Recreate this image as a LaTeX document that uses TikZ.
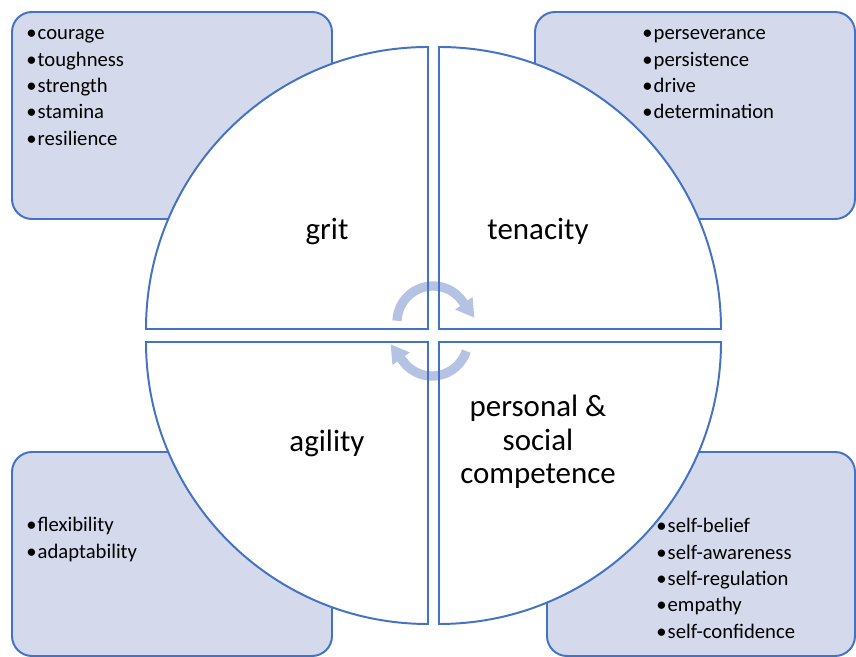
\documentclass[tikz,border=0pt]{standalone}
\usepackage{fontspec}
\setmainfont{Carlito}
\usetikzlibrary{arrows.meta}

\definecolor{edgeblue}{RGB}{68,114,196}
\definecolor{boxfill}{RGB}{212,218,236}
\definecolor{cycblue}{RGB}{180,194,228}

\newcommand{\bul}{\textbullet\kern0.8pt}

\tikzset{
  side/.style={draw=edgeblue, fill=boxfill, line width=1.4pt, rounded corners=0.5cm},
  quad/.style={draw=edgeblue, line width=1.4pt},
  head/.style={font=\fontsize{22}{24}\selectfont, align=center, inner sep=0pt},
  item/.style={font=\fontsize{14.7}{18}\selectfont, anchor=base west, inner sep=0pt},
  cyc/.style={draw=cycblue, line width=6.6pt, -{Triangle[width=0.5cm,length=0.45cm]}},
}

\begin{document}
\begin{tikzpicture}[x=0.025cm, y=0.025cm]
  \useasboundingbox (0,0) rectangle (856,657);

  % boxes behind the wheel
  \draw[side] (12,438) rectangle (332,645);
  \draw[side] (535,438) rectangle (855,645);
  \draw[side] (12,1) rectangle (332,205);
  \draw[side] (547,1) rectangle (855,205);

  % four quarters of the wheel
  \foreach \cx/\cy/\a in {428/328/90, 439/328/0, 428/315/180, 439/315/270}
    \fill[white] (\cx,\cy) -- ++(\a:282) arc[start angle=\a, end angle=\a+90, radius=282] -- cycle;

  % turning arrows in the middle
  \draw[cyc] (433,335) ++(178:36) arc[start angle=178, end angle=36, radius=36] -- ++(-54:21);
  \draw[cyc] (432,317) ++(-18:36) arc[start angle=-18, end angle=-144, radius=36] -- ++(126:21);

  \foreach \cx/\cy/\a in {428/328/90, 439/328/0, 428/315/180, 439/315/270}
    \draw[quad] (\cx,\cy) -- ++(\a:282) arc[start angle=\a, end angle=\a+90, radius=282] -- cycle;

  % quarter titles
  \node[head, anchor=base] (grit) at (327,417) {grit};
  \node[head, anchor=base] (tenacity) at (538,417) {tenacity};
  \node[head, anchor=base] (agility) at (327,205) {agility};
  \node[head] (psc) at (538,215) {personal \&\\social\\competence};

  % bullet lists
  \foreach \w [count=\i] in {courage,toughness,strength,stamina,resilience}
    \node[item] (grit\i) at (26,643.3-26.3*\i) {\bul\w};
  \foreach \w [count=\i] in {perseverance,persistence,drive,determination}
    \node[item] (ten\i) at (642,643.3-26.3*\i) {\bul\w};
  \foreach \w [count=\i] in {flexibility,adaptability}
    \node[item] (agi\i) at (26,151.3-26.3*\i) {\bul\w};
  \foreach \w [count=\i] in {self-belief,self-awareness,self-regulation,empathy,self-confidence}
    \node[item] (psc\i) at (656,150.3-26.3*\i) {\bul\w};
\end{tikzpicture}
\end{document}
